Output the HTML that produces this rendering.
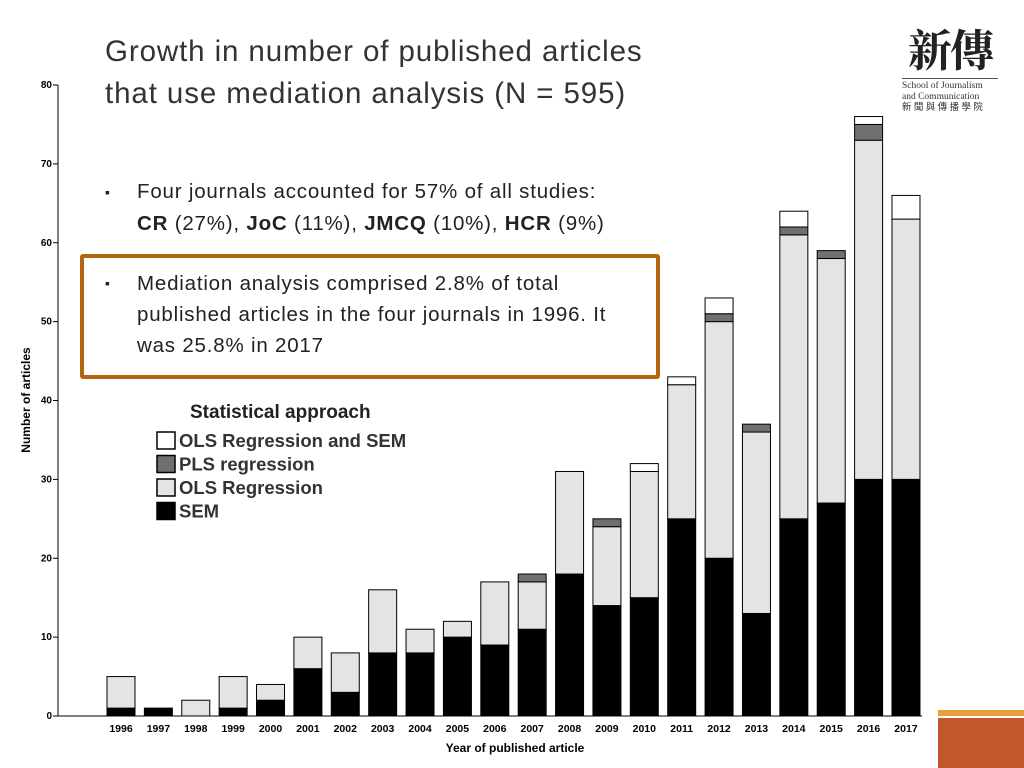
<!DOCTYPE html>
<html><head><meta charset="utf-8"><style>
body{margin:0;width:1024px;height:768px;background:#fff;overflow:hidden;position:relative;font-family:"Liberation Sans",sans-serif}
.t{position:absolute;font-family:"Liberation Sans",sans-serif;color:#222;white-space:nowrap}
.b{position:absolute;left:105px;font-size:14px}
.l{position:absolute;left:137px}
</style></head><body>
<svg id="c" width="1024" height="768" style="position:absolute;left:0;top:0"></svg>
<div class="t" style="left:105px;top:31px;font-size:29.5px;line-height:42px;color:#333;letter-spacing:0.9px">Growth in number of published articles<br>that use mediation analysis (N = 595)</div>
<div class="t" style="left:0;top:176px;font-size:20.5px;line-height:32px;letter-spacing:0.8px;width:700px;height:70px">
<span class="b" style="top:0">▪</span><span class="l" style="top:0">Four journals accounted for 57% of all studies:</span>
<span class="l" style="top:32px"><b>CR</b> (27%), <b>JoC</b> (11%), <b>JMCQ</b> (10%), <b>HCR</b> (9%)</span></div>
<div style="position:absolute;left:80px;top:254px;width:572px;height:117px;border:4px solid #b5650f;border-radius:3px;background:#fff"></div>
<div class="t" style="left:0;top:268px;font-size:20.5px;line-height:31px;letter-spacing:0.8px;width:700px;height:100px">
<span class="b" style="top:0">▪</span><span class="l" style="top:0">Mediation analysis comprised 2.8% of total</span>
<span class="l" style="top:31px">published articles in the four journals in 1996. It</span>
<span class="l" style="top:62px">was 25.8% in 2017</span></div>
<div style="position:absolute;left:900px;top:22px;width:100px;text-align:center">
<div style="font-family:'Noto Serif CJK SC',serif;font-size:44px;line-height:50px;font-weight:bold;color:#222;letter-spacing:-2px">新傳</div>
<div style="border-top:1px solid #555;margin:6px 2px 2px"></div>
<div style="font-family:'Liberation Serif',serif;font-size:9.5px;line-height:11px;color:#333;text-align:left;padding-left:2px">School of Journalism<br>and Communication<br>新 聞 與 傳 播 學 院</div></div>
<div style="position:absolute;left:938px;top:710px;width:86px;height:6px;background:#e6a13a"></div>
<div style="position:absolute;left:938px;top:718px;width:86px;height:50px;background:#c0582a"></div>
<script>
const years=["1996","1997","1998","1999","2000","2001","2002","2003","2004","2005","2006","2007","2008","2009","2010","2011","2012","2013","2014","2015","2016","2017"];
const sem=[1,1,0,1,2,6,3,8,8,10,9,11,18,14,15,25,20,13,25,27,30,30];
const ols=[4,0,2,4,2,4,5,8,3,2,8,6,13,10,16,17,30,23,36,31,43,33];
const pls=[0,0,0,0,0,0,0,0,0,0,0,1,0,1,0,0,1,1,1,1,2,0];
const olsSem=[0,0,0,0,0,0,0,0,0,0,0,0,0,0,1,1,2,0,2,0,1,3];
const yTicks=[0,10,20,30,40,50,60,70,80];
const NS="http://www.w3.org/2000/svg",svg=document.getElementById('c');
const y0=716,y80=85;const Y=v=>y0-(v/80)*(y0-y80);const X=i=>121+i*37.38;const bw=28;
function mk(t,a,p){const e=document.createElementNS(NS,t);for(const k in a)e.setAttribute(k,a[k]);(p||svg).appendChild(e);return e;}
let ax=mk('line',{x1:58,x2:58,y1:y80,y2:y0,stroke:'#000'});

let bx=mk('line',{x1:58,x2:922,y1:y0,y2:y0,stroke:'#000'});

yTicks.forEach(v=>{mk('line',{x1:53,x2:58,y1:Y(v),y2:Y(v),stroke:'#000'});
const t=mk('text',{x:52,y:Y(v)+3,'text-anchor':'end','font-size':10,'font-weight':'bold','font-family':'Liberation Sans'});t.textContent=v;
});
const series=[[sem,'#000'],[ols,'#e4e4e4'],[pls,'#707070'],[olsSem,'#fff']];
years.forEach((yr,i)=>{let base=0;series.forEach(([arr,col])=>{const v=arr[i];if(v>0){const r=mk('rect',{x:X(i)-bw/2,y:Y(base+v),width:bw,height:Y(base)-Y(base+v),fill:col,stroke:'#000','stroke-width':1});
}base+=v;});
const t=mk('text',{x:X(i),y:732,'text-anchor':'middle','font-size':10.5,'font-weight':'bold','font-family':'Liberation Sans'});t.textContent=yr;
});
let xt=mk('text',{x:515,y:752,'text-anchor':'middle','font-size':12,'font-weight':'bold','font-family':'Liberation Sans'});xt.textContent='Year of published article';

let yt=mk('text',{x:30,y:400,'text-anchor':'middle','font-size':12,'font-weight':'bold','font-family':'Liberation Sans',transform:'rotate(-90 30 400)'});yt.textContent='Number of articles';

const lg=mk('g',{});
let lt=mk('text',{x:190,y:418,'font-size':19,'font-weight':'bold','font-family':'Liberation Sans',fill:'#222'},lg);lt.textContent='Statistical approach';
const ln=['OLS Regression and SEM','PLS regression','OLS Regression','SEM'],lc=['#fff','#707070','#e4e4e4','#000'];
ln.forEach((n,k)=>{const yy=432+k*23.5;mk('rect',{x:157,y:yy,width:18,height:17,fill:lc[k],stroke:'#000','stroke-width':1.5},lg);
const t=mk('text',{x:179,y:yy+15,'font-size':18.5,'font-weight':'bold','font-family':'Liberation Sans',fill:'#333'},lg);t.textContent=n;
});
</script>
</body></html>
